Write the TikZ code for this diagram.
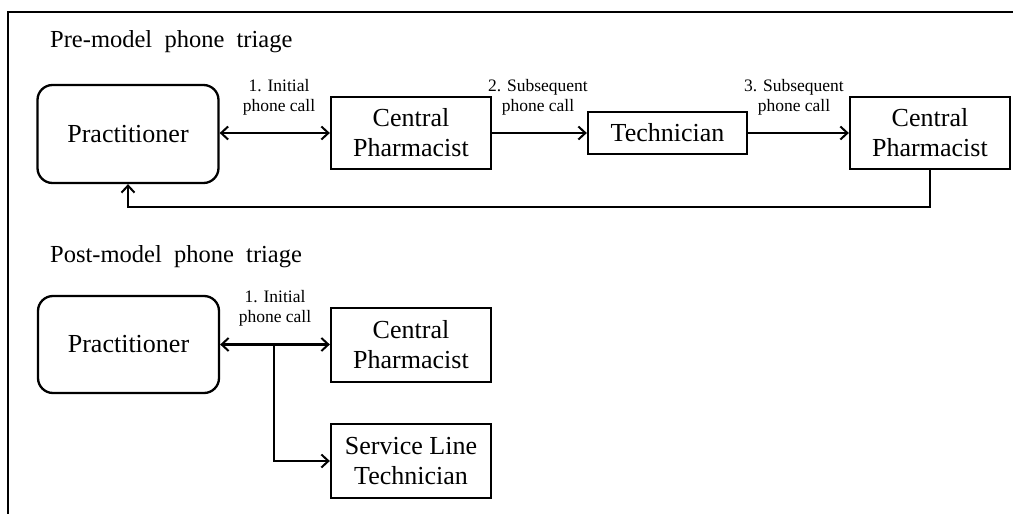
\documentclass[tikz,border=0pt]{standalone}
\usepackage{fontspec}
\setmainfont{Liberation Serif}
\usetikzlibrary{arrows.meta}
\begin{document}
\begin{tikzpicture}[x=1pt,y=-1pt,
  box/.style={draw,line width=2.3pt,inner sep=0pt,align=center,
    font=\fontsize{26}{30}\selectfont},
  rbox/.style={box,rounded corners=15pt},
  lbl/.style={inner sep=0pt,align=center,font=\fontsize{17.5}{20}\selectfont},
  ttl/.style={inner sep=0pt,anchor=base west,font=\fontsize{24.5}{28}\selectfont},
  conn/.style={line width=2.2pt},
  tip/.style={-{Straight Barb[length=7pt,width=13pt,line width=2pt]}},
  dtip/.style={{Straight Barb[length=7pt,width=13pt,line width=2pt]}-{Straight Barb[length=7pt,width=13pt,line width=2pt]}}]
\useasboundingbox (0,0) rectangle (1013,514);
\draw[line width=2pt] (8,514) -- (8,12) -- (1013,12);

% Pre-model
\node[ttl] (t1) at (50,47) {Pre-model\ \ phone\ \ triage};
\node[rbox,minimum width=181pt,minimum height=98pt] (p1) at (128,134) {Practitioner};
\node[box,minimum width=160pt,minimum height=72pt] (c1) at (411,133) {Central\\Pharmacist};
\node[box,minimum width=159pt,minimum height=42pt] (te) at (667.5,133) {Technician};
\node[box,minimum width=160pt,minimum height=72pt] (c2) at (930,133) {Central\\Pharmacist};
\node[lbl] (l1) at (279,97) {1. Initial\\phone call};
\node[lbl] (l2) at (538,97) {2. Subsequent\\phone call};
\node[lbl] (l3) at (794,97) {3. Subsequent\\phone call};
\draw[conn,dtip] (p1.east |- c1.west) -- (c1.west);
\draw[conn,tip] (c1.east |- te.west) -- (te.west);
\draw[conn,tip] (te.east) -- (c2.west |- te.east);
\draw[conn,tip] (c2.south) -- (930,207) -- (128,207) -- (p1.south);

% Post-model
\node[ttl] (t2) at (50,262) {Post-model\ \ phone\ \ triage};
\node[rbox,minimum width=181pt,minimum height=97pt] (p2) at (128.5,344.5) {Practitioner};
\node[box,minimum width=160pt,minimum height=74pt] (c3) at (411,345) {Central\\Pharmacist};
\node[box,minimum width=160pt,minimum height=74pt] (s1) at (411,461) {Service Line\\Technician};
\node[lbl] (l4) at (275,308) {1. Initial\\phone call};
\coordinate (br) at (274,344.5);
\draw[conn,dtip] (p2.east) -- (c3.west |- p2.east);
\draw[conn,tip] (br) |- (s1.west);
\end{tikzpicture}
\end{document}
